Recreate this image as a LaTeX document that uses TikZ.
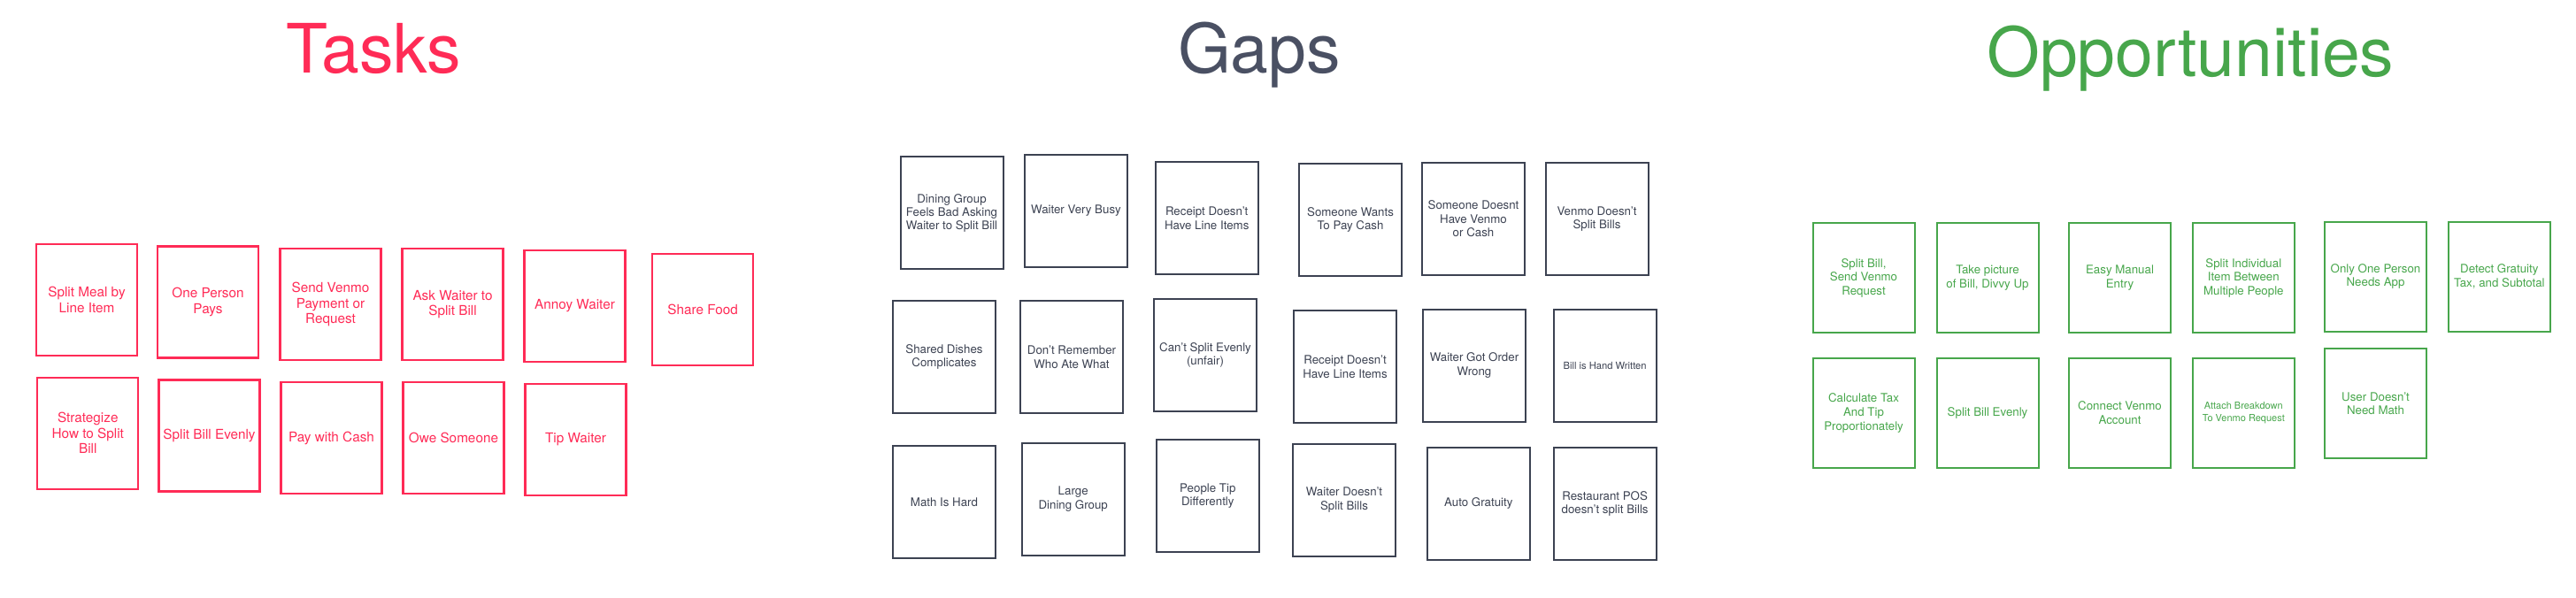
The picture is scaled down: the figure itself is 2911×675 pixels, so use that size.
\documentclass[tikz,border=0pt]{standalone}
\usepackage{fontspec}
\setmainfont{TeX Gyre Heros}
\usepackage{tikz}
\definecolor{taskred}{RGB}{255,43,86}
\definecolor{gapslate}{RGB}{74,80,99}
\definecolor{gapline}{RGB}{60,66,82}
\definecolor{oppgreen}{RGB}{71,166,75}
\tikzset{
	card/.style={draw, minimum width=114pt, minimum height=126pt, align=center, inner sep=2pt},
	task/.style={card, line width=2.3pt, color=taskred, font=\fontsize{15.3}{17.5}\selectfont},
	gap/.style={card, line width=2pt, color=gapline, minimum width=116pt, minimum height=127pt, font=\fontsize{13.3}{15.2}\selectfont},
	opp/.style={card, line width=2pt, color=oppgreen, minimum width=115pt, minimum height=124pt, font=\fontsize{13.3}{15.7}\selectfont},
	heading/.style={anchor=base, font=\fontsize{77}{80}\selectfont},
}
\begin{document}
\begin{tikzpicture}[x=1pt, y=-1pt]
		%%%%% START %%%%%
		\useasboundingbox (0, 0) rectangle (2911, 675);
		
		\node[heading, color=taskred] (tasks) at (422.5, 82.3) {Tasks};
		\node[heading, color=gapslate] (gaps) at (1423, 82.3) {Gaps};
		\node[heading, color=oppgreen] (opps) at (2475.3, 86.7) {Opportunities};
		
		%%%%% TASKS %%%%%
		\node[task] (t1) at (98, 338.7) {Split Meal by\\Line Item};
		\node[task] (t2) at (235, 341.5) {One Person\\Pays};
		\node[task] (t3) at (373.5, 344.2) {Send Venmo\\Payment or\\Request};
		\node[task] (t4) at (511.5, 344.2) {Ask Waiter to\\Split Bill};
		\node[task] (t5) at (649.5, 345.8) {Annoy Waiter};
		\node[task] (t6) at (794.2, 350) {Share Food};
		
		\node[task] (t7) at (99.3, 489.7) {Strategize\\How to Split\\Bill};
		\node[task] (t8) at (236.5, 492.5) {Split Bill Evenly};
		\node[task] (t9) at (374.5, 495.3) {Pay with Cash};
		\node[task] (t10) at (512.5, 495.3) {Owe Someone};
		\node[task] (t11) at (650.5, 497) {Tip Waiter};
		
		%%%%% GAPS %%%%%
		\node[gap] (g1) at (1075.5, 240.7) {Dining Group\\Feels Bad Asking\\Waiter to Split Bill};
		\node[gap] (g2) at (1216, 238.3) {Waiter Very Busy};
		\node[gap] (g3) at (1363.7, 246.7) {Receipt Doesn't\\Have Line Items};
		\node[gap] (g4) at (1526, 248.3) {Someone Wants\\To Pay Cash};
		\node[gap] (g5) at (1665, 247.3) {Someone Doesnt\\Have Venmo\\or Cash};
		\node[gap] (g6) at (1804.5, 247.7) {Venmo Doesn't\\Split Bills};
		
		\node[gap] (g7) at (1067, 403.7) {Shared Dishes\\Complicates};
		\node[gap] (g8) at (1211, 403.7) {Don't Remember\\Who Ate What};
		\node[gap] (g9) at (1362, 401.8) {Can't Split Evenly\\(unfair)};
		\node[gap] (g10) at (1520, 414.7) {Receipt Doesn't\\Have Line Items};
		\node[gap] (g11) at (1666, 413) {Waiter Got Order\\Wrong};
		\node[gap, font=\fontsize{11.2}{13}\selectfont] (g12) at (1813.6, 413) {Bill is Hand Written};
		
		\node[gap] (g13) at (1067, 567.5) {Math Is Hard};
		\node[gap] (g14) at (1212.7, 564) {Large\\Dining Group};
		\node[gap] (g15) at (1364.8, 560.5) {People Tip\\Differently};
		\node[gap] (g16) at (1519, 565) {Waiter Doesn't\\Split Bills};
		\node[gap] (g17) at (1670.8, 569) {Auto Gratuity};
		\node[gap] (g18) at (1813.6, 569.3) {Restaurant POS\\doesn't split Bills};
		
		%%%%% OPPORTUNITIES %%%%%
		\node[opp] (o1) at (2106, 314.2) {Split Bill,\\Send Venmo\\Request};
		\node[opp] (o2) at (2246, 314.2) {Take picture\\of Bill, Divvy Up};
		\node[opp] (o3) at (2395.5, 314.2) {Easy Manual\\Entry};
		\node[opp] (o4) at (2535.3, 314.2) {Split Individual\\Item Between\\Multiple People};
		\node[opp] (o5) at (2684.5, 312.5) {Only One Person\\Needs App};
		\node[opp] (o6) at (2824.3, 312.5) {Detect Gratuity\\Tax, and Subtotal};
		
		\node[opp] (o7) at (2106, 466.8) {Calculate Tax\\And Tip\\Proportionately};
		\node[opp] (o8) at (2246, 466.8) {Split Bill Evenly};
		\node[opp] (o9) at (2395.5, 466.8) {Connect Venmo\\Account};
		\node[opp, font=\fontsize{11}{13.3}\selectfont] (o10) at (2535.3, 466.8) {Attach Breakdown\\To Venmo Request};
		\node[opp] (o11) at (2684.5, 456.2) {User Doesn't\\Need Math};
		
		%%%%% END %%%%%
	\end{tikzpicture}
\end{document}
